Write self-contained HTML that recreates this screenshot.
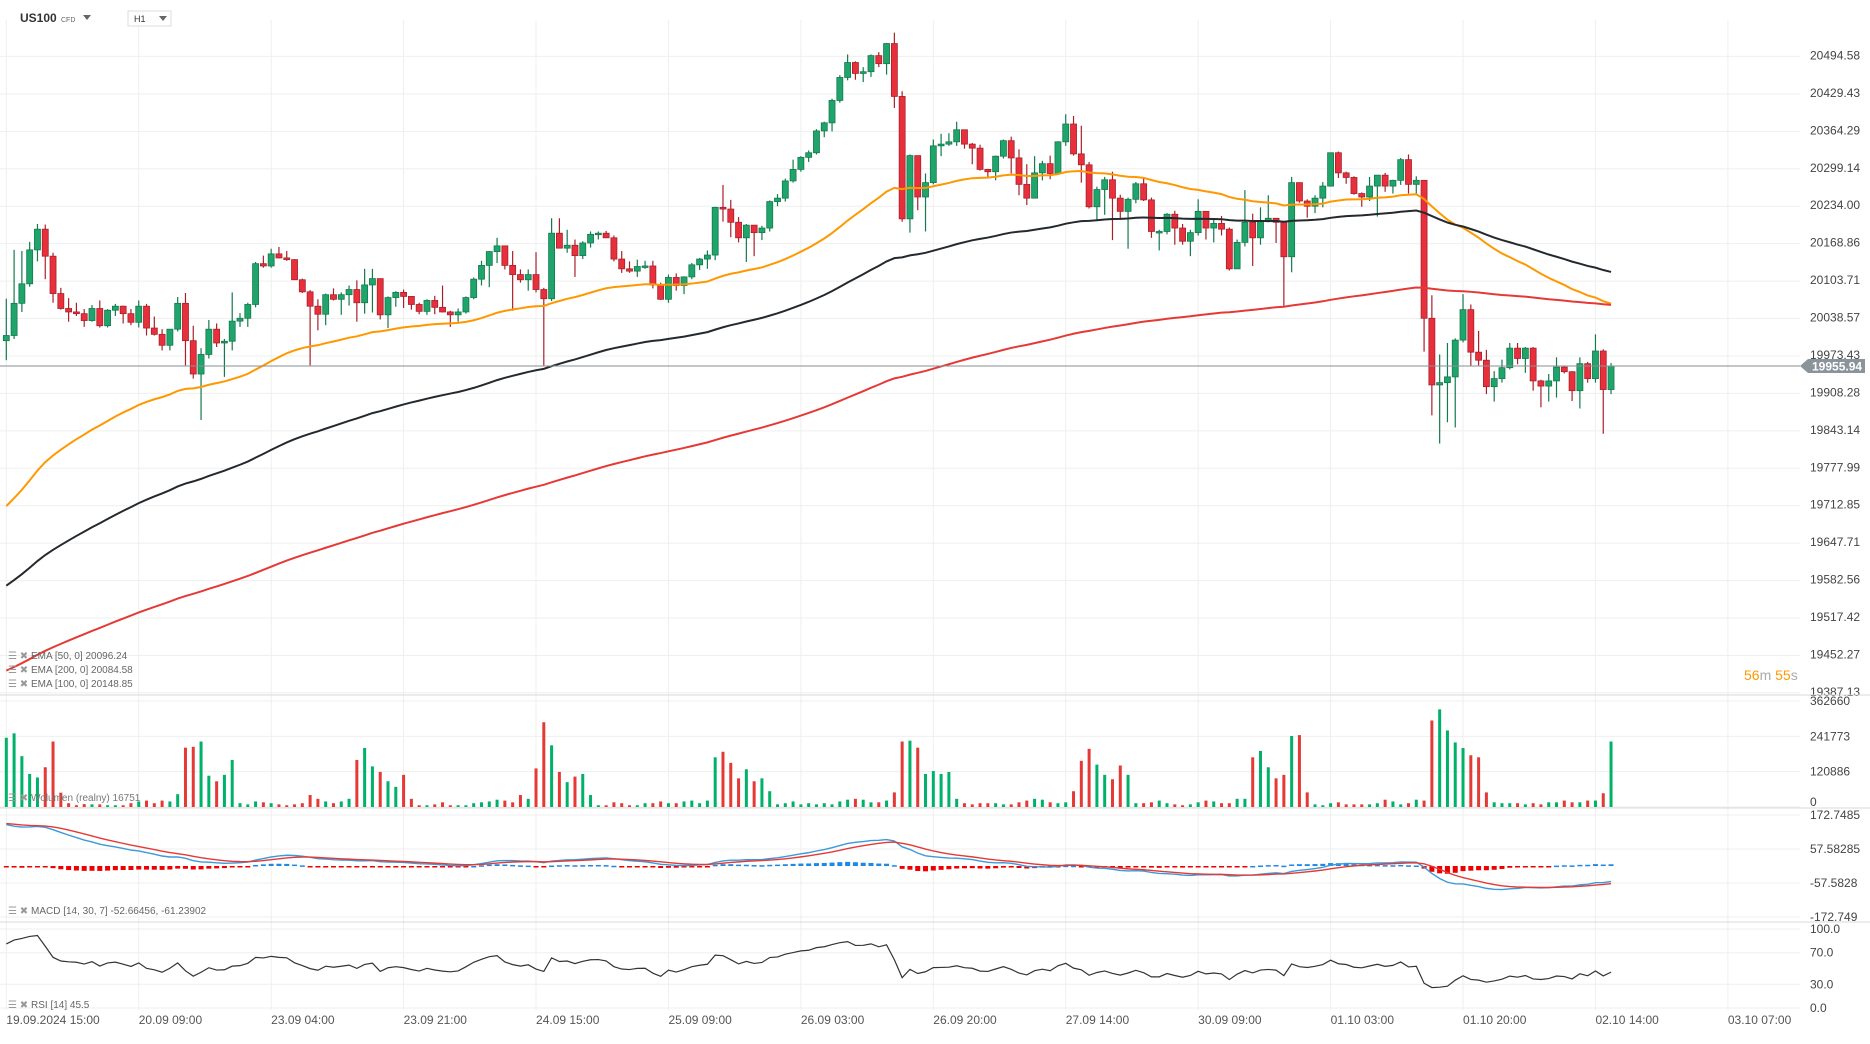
<!DOCTYPE html>
<html><head><meta charset="utf-8">
<style>
html,body{margin:0;padding:0;background:#fff;}
body{width:1870px;height:1039px;overflow:hidden;font-family:"Liberation Sans",Arial,sans-serif;}
svg text{font-family:"Liberation Sans",Arial,sans-serif;}
</style></head>
<body>
<svg id="chart" width="1870" height="1039" viewBox="0 0 1870 1039" xmlns="http://www.w3.org/2000/svg">
  <g id="grid"></g>
  <g id="candles"></g>
  <g id="emas"></g>
  <g id="vol"></g>
  <g id="macd"></g>
  <g id="rsi"></g>
  <g id="axes"></g>
  <g>
    <text x="20" y="22" font-size="12" font-weight="bold" fill="#333">US100</text>
    <text x="61" y="22" font-size="7" fill="#666">CFD</text>
    <path d="M83 15 l8 0 l-4 5 z" fill="#666"/>
  </g>
  <g>
    <rect x="128" y="11" width="43" height="15" fill="#fff" stroke="#ddd"/>
    <text x="134" y="22" font-size="9" fill="#333">H1</text>
    <path d="M159 16 l8 0 l-4 5 z" fill="#666"/>
  </g>
  <g font-size="10" fill="#666">
    <text x="8" y="659" fill="#999">☰ ✖</text><text x="31" y="659">EMA [50, 0] 20096.24</text>
    <text x="8" y="673" fill="#999">☰ ✖</text><text x="31" y="673">EMA [200, 0] 20084.58</text>
    <text x="8" y="687" fill="#999">☰ ✖</text><text x="31" y="687">EMA [100, 0] 20148.85</text>
  </g>
  <g font-size="10" fill="#777"><text x="8" y="801" fill="#999">☰ ✖</text><text x="31" y="801">Wolumen (realny) 16751</text></g>
  <g font-size="10" fill="#666"><text x="8" y="914" fill="#999">☰ ✖</text><text x="31" y="914">MACD [14, 30, 7] -52.66456, -61.23902</text></g>
  <g font-size="10" fill="#666"><text x="8" y="1008" fill="#999">☰ ✖</text><text x="31" y="1008">RSI [14] 45.5</text></g>
  <g font-size="14"><text x="1744" y="680"><tspan fill="#ff9800">56</tspan><tspan fill="#aaa">m </tspan><tspan fill="#ff9800">55</tspan><tspan fill="#aaa">s</tspan></text></g>
</svg>
<script>
const closes=[20009,20065,20099,20158,20194,20147,20082,20056,20050,20047,20035,20056,20026,20053,20060,20047,20032,20060,20022,20011,19992,20020,20065,20000,19942,19976,20020,19996,19999,20034,20039,20063,20134,20130,20151,20144,20141,20106,20085,20060,20046,20080,20072,20080,20089,20066,20097,20108,20045,20075,20084,20077,20063,20051,
20070,20058,20050,20045,20050,20075,20107,20131,20155,20165,20131,20115,20106,20115,20089,20073,20187,20161,20166,20148,20170,20185,20187,20179,20142,20125,20121,20129,20130,20097,20072,20110,20096,20111,20132,20142,20149,20232,
20229,20206,20179,20201,20188,20196,20242,20248,20278,20298,20319,20327,20365,20379,20418,20458,20484,20465,20468,20496,20482,20517,20425,20212,20322,20250,20275,20339,20342,20346,20367,20342,20335,20298,20294,20321,20348,20318,20272,20248,20292,20308,20291,20346,20377,20325,20306,20233,20263,20280,20248,
20225,20246,20273,20245,20190,20190,20220,20196,20173,20188,20225,20196,20204,20194,20125,20171,20206,20179,20207,20213,20206,20146,20275,20243,20234,20248,20269,20327,20292,20284,20256,20250,20269,20288,20269,20279,20315,20272,20279,20039,19923,19927,19937,20001,20054,19980,19966,19920,19934,19953,19987,19969,19987,19930,19921,19930,19954,19946,19913,19960,19934,19982,19915,19956];
const highs=[20073,20158,20156,20172,20203,20202,20153,20092,20074,20066,20055,20062,20070,20055,20064,20061,20055,20070,20064,20042,20020,20020,20076,20083,20026,19987,20036,20030,20003,20084,20048,20066,20137,20148,20160,20163,20156,20142,20108,20088,20072,20082,20091,20084,20096,20105,20125,20125,20106,20077,20086,20089,20077,20066,
20072,20078,20096,20052,20056,20077,20110,20139,20156,20179,20165,20156,20124,20124,20154,20092,20213,20213,20193,20176,20173,20190,20190,20191,20183,20156,20138,20141,20139,20139,20101,20115,20117,20112,20135,20144,20157,20233,
20271,20245,20215,20203,20201,20200,20244,20255,20282,20315,20321,20331,20368,20381,20421,20462,20498,20486,20476,20498,20502,20518,20536,20434,20324,20322,20291,20350,20360,20361,20381,20365,20344,20341,20299,20322,20350,20355,20333,20307,20321,20313,20322,20347,20394,20391,20374,20311,20268,20285,20294,
20254,20249,20276,20283,20249,20193,20222,20226,20203,20193,20246,20225,20212,20217,20197,20176,20262,20221,20232,20253,20213,20208,20285,20273,20246,20253,20276,20327,20329,20294,20286,20258,20285,20288,20292,20280,20318,20324,20286,20279,20079,19976,19996,20004,20081,20063,20017,19984,19947,19967,19996,19996,19989,19989,19932,19942,19971,19956,19947,19971,19963,20011,19985,19961];
const lows=[19966,20003,20050,20094,20138,20107,20066,20054,20033,20043,20024,20033,20023,20023,20043,20030,20027,20023,20009,20009,19983,19983,20016,19957,19934,19862,19969,19989,19937,19983,20024,20024,20058,20127,20127,20143,20139,20106,20083,19957,20018,20027,20070,20045,20061,20033,20047,20049,20037,20022,20059,20057,20054,20046,
20045,20046,20049,20024,20033,20047,20072,20096,20093,20135,20124,20052,20101,20087,20084,19957,20069,20161,20153,20111,20142,20162,20176,20179,20138,20118,20118,20111,20125,20091,20071,20066,20087,20081,20107,20123,20125,20140,
20207,20180,20171,20137,20147,20175,20190,20234,20242,20275,20294,20311,20324,20354,20364,20414,20453,20454,20450,20459,20476,20463,20405,20207,20188,20227,20190,20272,20321,20339,20339,20334,20307,20296,20285,20279,20317,20291,20253,20236,20248,20279,20281,20290,20339,20322,20275,20230,20210,20219,20175,
20212,20160,20239,20243,20179,20157,20185,20167,20167,20147,20183,20176,20171,20183,20122,20125,20164,20130,20167,20206,20170,20059,20119,20240,20214,20222,20232,20268,20283,20273,20254,20233,20243,20216,20259,20256,20271,20256,20253,19981,19870,19821,19858,19849,19997,19956,19957,19907,19894,19927,19950,19959,19944,19913,19884,19894,19901,19943,19895,19882,19927,19927,19838,19907];
const volumesK=[237,252,174,113,101,136,224,49,13,6,10,9,9,6,6,6,13,19,22,13,22,19,44,203,206,224,107,88,110,161,13,9,19,16,13,9,6,9,13,41,28,19,13,19,28,161,202,139,120,88,69,110,28,6,6,9,16,6,6,6,13,16,19,25,22,16,41,28,132,290,211,120,85,104,113,41,6,6,16,13,6,6,13,13,19,13,13,19,22,13,22,170,189,151,98,129,88,98,54,9,13,19,9,13,9,13,9,19,25,28,25,16,16,22,50,224,227,203,113,123,113,120,28,13,9,13,13,13,9,9,16,22,28,25,16,13,16,54,158,199,145,110,95,142,110,13,13,16,22,13,9,6,9,16,22,19,13,13,28,28,170,192,136,98,110,243,246,50,9,6,13,16,9,9,9,9,13,25,19,9,13,25,22,296,334,262,221,202,177,170,50,16,13,13,13,9,13,9,16,16,22,16,16,22,22,47,224,16];
const firstOpen=20000;
const priceTicks=[20494.58,20429.43,20364.29,20299.14,20234.00,20168.86,20103.71,20038.57,19973.43,19908.28,19843.14,19777.99,19712.85,19647.71,19582.56,19517.42,19452.27,19387.13];
const volTicks=[362660,241773,120886,0];
const macdTicks=[172.7485,57.58285,-57.5828,-172.749];
const rsiTicks=[100,70,30,0];
const timeTickIdx=[0,17,34,51,68,85,102,119,136,153,170,187,204,221];
const timeTickLabels=["19.09.2024  15:00","20.09  09:00","23.09  04:00","23.09  21:00","24.09  15:00","25.09  09:00","26.09  03:00","26.09  20:00","27.09  14:00","30.09  09:00","01.10  03:00","01.10  20:00","02.10  14:00","03.10  07:00"];
const emaSeeds=[19700,19565,19420];
const lastPrice=19955.94;

const NS="http://www.w3.org/2000/svg";
function mk(tag,attrs,parent){const e=document.createElementNS(NS,tag);for(const k in attrs)e.setAttribute(k,attrs[k]);parent.appendChild(e);return e;}
const X=i=>6.3+i*7.79;
const PY=p=>366-(p-lastPrice)/1.74;
const VY=v=>807-v*106/362.66;
const MY=v=>866-v*0.2952;
const RY=v=>1008-v*0.79;
const G="#1fa56b",R="#e8303d";
const grid=document.getElementById('grid'),axes=document.getElementById('axes');

timeTickIdx.forEach((t,k)=>{
  const l=mk('line',{x1:X(t),x2:X(t),y1:20,y2:1010,stroke:'#efefef','stroke-width':1},grid);
  
  
  const tx=mk('text',{x:X(t),y:1024,'font-size':12,fill:'#555'},axes);tx.textContent=timeTickLabels[k];
  
  
});
priceTicks.forEach(p=>{
  const l=mk('line',{x1:0,x2:1800,y1:PY(p),y2:PY(p),stroke:'#efefef'},grid);
  
  
  const t=mk('text',{x:1810,y:PY(p)+3,'font-size':12,fill:'#444'},axes);t.textContent=p.toFixed(2);
  
  
});
volTicks.forEach(v=>{
  const y=VY(v/1000);
  const l=mk('line',{x1:0,x2:1800,y1:y,y2:y,stroke:'#efefef'},grid);
  
  
  const t=mk('text',{x:1810,y:y+(v===0?-1:4),'font-size':12,fill:'#444'},axes);t.textContent=String(v);
  
  
});
macdTicks.forEach(v=>{
  const y=MY(v);
  const l=mk('line',{x1:0,x2:1800,y1:y,y2:y,stroke:'#efefef'},grid);
  
  
  const t=mk('text',{x:1810,y:y+4,'font-size':12,fill:'#444'},axes);t.textContent=String(v);
  
  
});
rsiTicks.forEach(v=>{
  const y=RY(v);
  const l=mk('line',{x1:0,x2:1800,y1:y,y2:y,stroke:'#efefef'},grid);
  
  
  const t=mk('text',{x:1810,y:y+4,'font-size':12,fill:'#444'},axes);t.textContent=v.toFixed(1);
  
  
});
[695,808,922].forEach(y=>{
  const l=mk('line',{x1:0,x2:1870,y1:y,y2:y,stroke:'#d8d8d8'},axes);
  
  
});

const cg=document.getElementById('candles');
closes.forEach((c,i)=>{
  const o=i===0?firstOpen:closes[i-1];
  const up=c>=o,col=up?G:R,x=X(i);
  const w=mk('line',{x1:x,x2:x,y1:PY(highs[i]),y2:PY(lows[i]),stroke:up?'#137a4c':'#a8202b','stroke-width':1.2},cg);
  
  
  const top=PY(Math.max(o,c)),bot=PY(Math.min(o,c));
  const b=mk('rect',{x:x-3,y:top,width:6,height:Math.max(1.5,bot-top),fill:col,stroke:up?'#137a4c':'#a8202b','stroke-width':0.8},cg);
  
  
  const v=mk('rect',{x:x-1.5,y:VY(volumesK[i]),width:3,height:807-VY(volumesK[i]),fill:up?'#00b16a':'#e53935'},document.getElementById('vol'));
  
  
});

function ema(seed,n,src){const a=2/(n+1);let e=seed;return src.map(c=>(e=e+a*(c-e)));}
const eg=document.getElementById('emas');
[[50,'#ff9800',0],[100,'#24292e',1],[200,'#e53935',2]].forEach(([n,col,k])=>{
  const s=ema(emaSeeds[k],n,closes);
  const p=mk('polyline',{points:s.map((v,i)=>X(i)+','+PY(v)).join(' '),fill:'none',stroke:col,'stroke-width':2},eg);
  
  
});

const cl=mk('line',{x1:0,x2:1800,y1:PY(lastPrice),y2:PY(lastPrice),stroke:'#8a8f94','stroke-width':1},axes);


const tag=mk('path',{d:`M1800 ${PY(lastPrice)} l8 -7 h57 v14 h-57 z`,fill:'#8a949b'},axes);


const tt=mk('text',{x:1812,y:PY(lastPrice)+4.5,'font-size':12,'font-weight':'bold',fill:'#fff'},axes);tt.textContent=lastPrice.toFixed(2);



const e14=ema(20010,14,closes),e30=ema(19860,30,closes);
const macdLine=e14.map((v,i)=>v-e30[i]);
const sig=ema(145,7,macdLine);
const mg=document.getElementById('macd');
macdLine.forEach((m,i)=>{
  const h=m-sig[i];const y0=MY(0),y1=MY(h*0.8);
  const r=mk('rect',{x:X(i)-2.5,y:Math.min(y0,y1),width:5,height:Math.max(1.5,Math.abs(y1-y0)),fill:h>=0?'#1e88e5':'#e00'},mg);
  
  
});
const ml=mk('polyline',{points:macdLine.map((v,i)=>X(i)+','+MY(v)).join(' '),fill:'none',stroke:'#3a9ad9','stroke-width':1.4},mg);


const sl=mk('polyline',{points:sig.map((v,i)=>X(i)+','+MY(v)).join(' '),fill:'none',stroke:'#e53935','stroke-width':1.4},mg);



let ag=10,al=2.5;const rsiVals=closes.map((c,i)=>{const d=c-(i===0?firstOpen:closes[i-1]);ag=(ag*13+Math.max(d,0))/14;al=(al*13+Math.max(-d,0))/14;return 100-100/(1+ag/al);});
const rl=mk('polyline',{points:rsiVals.map((v,i)=>X(i)+','+RY(v)).join(' '),fill:'none',stroke:'#333','stroke-width':1.2},document.getElementById('rsi'));


</script>
</body></html>
